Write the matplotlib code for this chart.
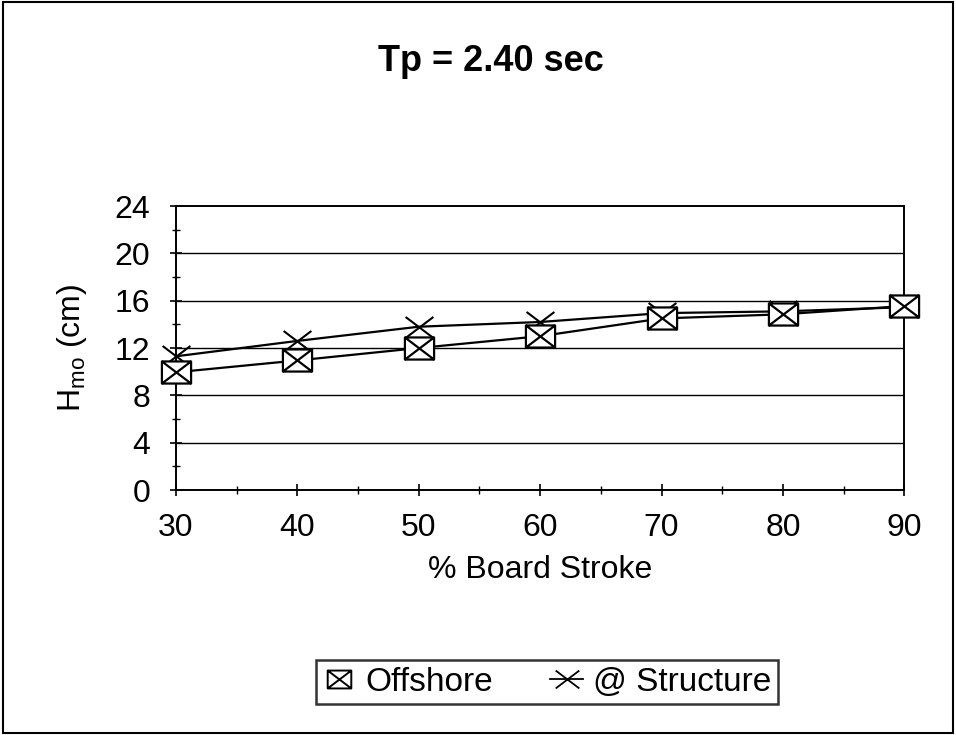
import matplotlib
matplotlib.use("Agg")
import matplotlib.pyplot as plt
from matplotlib.patches import Rectangle
from matplotlib.ticker import MultipleLocator
from matplotlib.lines import Line2D
from matplotlib.path import Path

plt.rcParams['font.family'] = ['Liberation Sans', 'DejaVu Sans']
plt.rcParams['mathtext.fontset'] = 'custom'
plt.rcParams['mathtext.rm'] = 'Liberation Sans'
plt.rcParams['mathtext.it'] = 'Liberation Sans'

# % board stroke and wave heights Hmo (cm)
stroke = [30, 40, 50, 60, 70, 80, 90]
offshore = [9.95, 10.95, 12.0, 13.0, 14.5, 14.85, 15.55]
structure = [11.3, 12.6, 13.8, 14.2, 14.95, 15.1, 15.45]

# the scanned chart is a bit wider than tall, so are its markers
w = 1.32
box_x = Path([(-w, -1), (w, -1), (w, 1), (-w, 1), (-w, -1),
              (-w, -1), (w, 1), (-w, 1), (w, -1)],
             [Path.MOVETO, Path.LINETO, Path.LINETO, Path.LINETO, Path.CLOSEPOLY,
              Path.MOVETO, Path.LINETO, Path.MOVETO, Path.LINETO])
cross = Path([(-w, -1), (w, 1), (-w, 1), (w, -1)],
             [Path.MOVETO, Path.LINETO, Path.MOVETO, Path.LINETO])

fig = plt.figure(figsize=(9.56, 7.35), dpi=100)
ax = fig.add_axes([0.184, 0.3333, 0.762, 0.3864])

# grid lines
for y in [4, 8, 12, 16, 20]:
    ax.axhline(y, color='black', lw=1.0, zorder=1)

ax.plot(stroke, structure, color='black', lw=1.6, marker=cross, ms=20,
        mfc='none', mec='black', mew=1.5, zorder=3, clip_on=False)
ax.plot(stroke, offshore, color='black', lw=1.6, marker=box_x, ms=21,
        mfc='white', mec='black', mew=1.6, zorder=4, clip_on=False)

ax.set_xlim(30, 90)
ax.set_ylim(0, 24)
ax.xaxis.set_major_locator(MultipleLocator(10))
ax.xaxis.set_minor_locator(MultipleLocator(5))
ax.yaxis.set_major_locator(MultipleLocator(4))
ax.yaxis.set_minor_locator(MultipleLocator(2))
ax.tick_params(which='major', direction='inout', length=9, width=1.2,
               labelsize=23)
ax.tick_params(axis='y', which='major', pad=14)
ax.tick_params(axis='x', which='major', pad=12)
ax.tick_params(which='minor', direction='inout', length=6, width=1.0)
for s in ax.spines.values():
    s.set_linewidth(1.4)

ax.set_xlabel('% Board Stroke', fontsize=23, labelpad=9)
ax.set_ylabel(r'H$_{\mathrm{mo}}$ (cm)', fontsize=23, labelpad=18)
fig.text(0.513, 0.916, 'Tp = 2.40 sec', ha='center', va='center',
         fontsize=26, fontweight='bold')

h1 = Line2D([], [], ls='none', marker=box_x, ms=17, mfc='white', mec='black', mew=1.4)
h2 = Line2D([], [], color='black', lw=1.3, marker=cross, ms=17, mfc='none',
            mec='black', mew=1.3)
leg = fig.legend([h1, h2], ['Offshore', '@ Structure'], loc='center',
                 bbox_to_anchor=(0.572, 0.072), ncol=2, fontsize=24,
                 frameon=True, fancybox=False, edgecolor='black',
                 handlelength=1.0, handletextpad=0.3, columnspacing=1.7,
                 borderpad=0.2, borderaxespad=0)
leg.get_frame().set_linewidth(1.8)

fig.patches.append(Rectangle((0.003, 0.003), 0.994, 0.994, transform=fig.transFigure,
                             fill=False, edgecolor='black', lw=1.5))

fig.savefig('out.png', dpi=100)
